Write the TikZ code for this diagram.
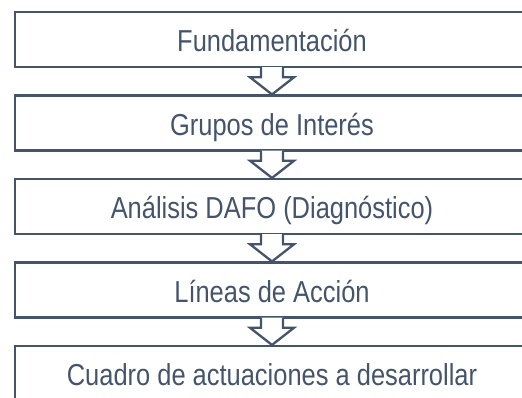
\documentclass[tikz,border=0pt]{standalone}
\usepackage{fontspec}
\setmainfont{Liberation Sans}[FakeStretch=0.84]
\usetikzlibrary{calc}
\definecolor{slate}{HTML}{44546A}
\tikzset{
  stage/.style={draw=slate, line width=2.3pt, text=slate, minimum width=514.6pt,
    minimum height=55pt, inner sep=0pt, text height=24.6pt, text depth=0pt,
    font=\fontsize{30.3}{36}\selectfont},
  flow/.style={draw=slate, fill=white, line width=2.3pt, line join=miter}
}
\begin{document}
\begin{tikzpicture}[x=1pt, y=-1pt]
    \useasboundingbox (0,0) rectangle (522,397);
    \clip (0,0) rectangle (522,397);
    \node[stage] at (272,39.6) (fund) {Fundamentación};
    \node[stage] at (272,123.1) (grupos) {Grupos de Interés};
    \node[stage] at (272,206.6) (dafo) {Análisis DAFO (Diagnóstico)};
    \node[stage] at (272,290.1) (lineas) {Líneas de Acción};
    \node[stage] at (272,373.6) (cuadro) {Cuadro de actuaciones a desarrollar};
    % hollow arrows between the stages
    \foreach \a/\b in {fund/grupos, grupos/dafo, dafo/lineas, lineas/cuadro}
      \filldraw[flow] ($(\a.south)+(-11,-1.1)$) -- ++(0,10.1) -- ++(-11,0)
        -- (\b.north) -- ($(\a.south)+(22,9)$) -- ++(-11,0) -- ++(0,-10.1);
\end{tikzpicture}
\end{document}
